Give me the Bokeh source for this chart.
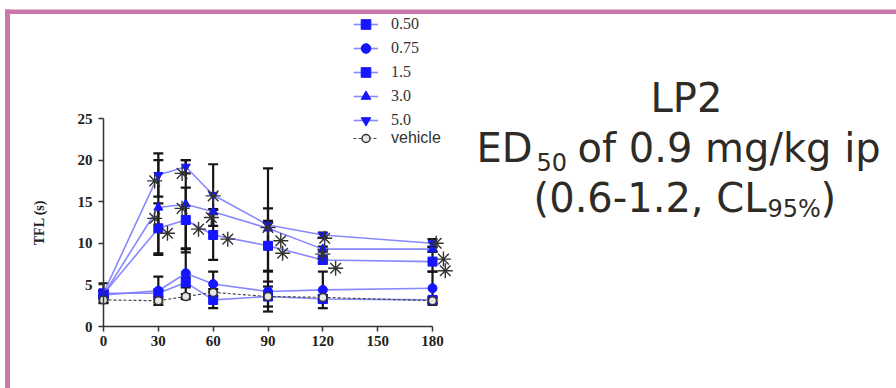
from bokeh.plotting import figure
from bokeh.models import (Range1d, LinearAxis, FixedTicker, Whisker, TeeHead,
                          ColumnDataSource, Legend, LegendItem, Label, BoxAnnotation)
from bokeh.embed import file_html
from bokeh.resources import INLINE

# ---------------- data ----------------
times = [0, 30, 45, 60, 90, 120, 180]
dose_050 = [4.0, 4.0, 5.3, 3.2, 3.6, 3.3, 3.2]
dose_075 = [3.8, 4.3, 6.4, 5.1, 4.2, 4.4, 4.6]
dose_15 = [3.9, 11.8, 12.8, 11.0, 9.7, 8.0, 7.8]
dose_30 = [3.8, 14.3, 14.7, 13.8, 11.8, 9.3, 9.3]
dose_50 = [4.0, 18.2, 19.2, 15.8, 12.2, 11.0, 10.0]
vehicle = [3.2, 3.1, 3.6, 4.1, 3.6, 3.5, 3.1]

sem_050 = [0.3, 0.4, 0.6, 1.0, 1.2, 0.3, 0.3]
sem_075 = [0.5, 1.7, 2.9, 1.5, 2.4, 2.2, 2.0]
sem_15 = [0.3, 3.0, 3.9, 3.0, 3.0, 0.4, 1.2]
sem_30 = [0.5, 5.7, 5.3, 0.3, 2.4, 0.3, 0.3]
sem_50 = [1.2, 2.6, 0.8, 3.7, 6.8, 0.3, 0.5]
sem_veh = [0.3, 0.2, 0.3, 0.4, 0.3, 0.3, 0.3]

labels = ["0.50", "0.75", "1.5", "3.0", "5.0"]
x_ticks = [0, 30, 60, 90, 120, 150, 180]
y_ticks = [0, 5, 10, 15, 20, 25]

# significance asterisks (time, value)
star_t = [28, 28, 35, 43, 43, 52, 60, 59, 68, 90, 97, 98, 121, 120, 127, 182, 186, 187]
star_v = [17.5, 13.0, 11.2, 18.4, 14.2, 11.7, 15.7, 13.1, 10.5, 11.9, 10.3, 8.8, 10.6, 8.7, 7.0, 10.0, 8.1, 6.7]

# ---------------- layout helpers (pixel -> data) ----------------
W, H = 896, 388
PX0, PY0 = 103.0, 326.0
SX = (432.0 - 103.0) / 180.0
SY = (326.0 - 118.0) / 25.0


def dx(px):
    return (px - PX0) / SX


def dy(py):
    return (PY0 - py) / SY


p = figure(width=W, height=H, output_backend="svg", toolbar_location=None,
           x_range=Range1d(dx(0), dx(W)), y_range=Range1d(dy(H), dy(0)),
           x_axis_location=None, y_axis_location=None,
           min_border=0, min_border_left=0, min_border_right=0,
           min_border_top=0, min_border_bottom=0)
p.outline_line_color = None
p.grid.visible = False
p.background_fill_color = "white"
p.border_fill_color = "white"

# slide frame
PINK = "#cc77aa"
p.add_layout(BoxAnnotation(left=dx(5), right=dx(W + 5), top=dy(9), bottom=dy(13.5),
                           fill_color=PINK, fill_alpha=1, line_color=None))
p.add_layout(BoxAnnotation(left=dx(4.5), right=dx(9.5), top=dy(9), bottom=dy(H + 5),
                           fill_color=PINK, fill_alpha=1, line_color=None))

# axes
AX = "#333333"
xaxis = LinearAxis(fixed_location=0, bounds=(0, 180), ticker=FixedTicker(ticks=x_ticks))
yaxis = LinearAxis(fixed_location=0, bounds=(0, 25), ticker=FixedTicker(ticks=y_ticks),
                   axis_label="TFL (s)")
for ax in (xaxis, yaxis):
    ax.axis_line_color = AX
    ax.axis_line_width = 1.5
    ax.major_tick_line_color = AX
    ax.major_tick_line_width = 1.5
    ax.major_tick_out = 5
    ax.major_tick_in = 0
    ax.minor_tick_line_color = None
    ax.major_label_text_font = "Liberation Serif"
    ax.major_label_text_font_style = "bold"
    ax.major_label_text_font_size = "15px"
    ax.major_label_text_color = "#222222"
    ax.major_label_standoff = 4
yaxis.major_label_standoff = 6
yaxis.axis_label_text_font = "Liberation Serif"
yaxis.axis_label_text_font_style = "bold"
yaxis.axis_label_text_font_size = "14px"
yaxis.axis_label_text_color = "#222222"
yaxis.axis_label_standoff = 28
p.add_layout(xaxis, "below")
p.add_layout(yaxis, "left")

# error bars
eb_t, eb_hi, eb_lo = [], [], []
for mean, sem in [(dose_050, sem_050), (dose_075, sem_075), (dose_15, sem_15),
                  (dose_30, sem_30), (dose_50, sem_50), (vehicle, sem_veh)]:
    for t, m, s in zip(times, mean, sem):
        eb_t.append(t)
        eb_hi.append(m + s)
        eb_lo.append(m - s)
eb_src = ColumnDataSource(data=dict(t=eb_t, hi=eb_hi, lo=eb_lo))
EB = "#151515"
wh = Whisker(source=eb_src, base="t", upper="hi", lower="lo", line_color=EB, line_width=2.2,
             upper_head=TeeHead(size=10, line_color=EB, line_width=2.2),
             lower_head=TeeHead(size=10, line_color=EB, line_width=2.2),
             level="underlay")
p.add_layout(wh)

# series
LINE = "#7b7bff"
MARK = "#1515ff"
series = [(dose_050, "square", 9), (dose_075, "circle", 9), (dose_15, "square", 9),
          (dose_30, "triangle", 9), (dose_50, "inverted_triangle", 9)]
items = []
for (vals, marker, size), lab in zip(series, labels):
    lr = p.line(times, vals, line_color=LINE, line_width=1.6, line_alpha=0.9)
    sr = p.scatter(times, vals, marker=marker, size=size, fill_color=MARK, line_color=MARK)
    items.append(LegendItem(label=lab, renderers=[lr, sr]))

vl = p.line(times, vehicle, line_color="#444444", line_width=1.2, line_dash="3 2")
vs = p.scatter(times, vehicle, marker="circle", size=8, fill_color="#e6e6e6",
               line_color="#333333", line_width=1.5)

# asterisks
p.scatter(star_t, star_v, marker="asterisk", size=15, line_color="#333333", line_width=1.4)

# legends
leg = Legend(items=items, location=(353, 388 - 132), padding=0, margin=0, spacing=0,
             glyph_width=25, glyph_height=24, label_height=24, label_standoff=13,
             label_text_font="Liberation Serif", label_text_font_size="16px",
             label_text_color="#333333", background_fill_alpha=0, border_line_alpha=0)
leg2 = Legend(items=[LegendItem(label="vehicle", renderers=[vl, vs])],
              location=(353, 388 - 148), padding=0, margin=0, spacing=0,
              glyph_width=25, glyph_height=20, label_height=20, label_standoff=13,
              label_text_font="Liberation Sans", label_text_font_size="16px",
              label_text_color="#333333", background_fill_alpha=0, border_line_alpha=0)
p.add_layout(leg)
p.add_layout(leg2)

# slide text
TXT = "#2e2b26"
FONT = "DejaVu Sans"


def lab(px, py, text, size, align="left"):
    # py is the intended baseline; shift for the renderer's baseline offset
    p.add_layout(Label(x=dx(px), y=dy(py - 0.37 * size), text=text, text_align=align,
                       text_baseline="alphabetic", text_font=FONT,
                       text_font_size=f"{size}px", text_color=TXT))


lab(686, 112, "LP2", 40, "center")
lab(532, 162, "ED", 40, "right")
lab(536, 170, "50", 24)
lab(577, 162, "of 0.9 mg/kg ip", 40)
lab(766, 212, "(0.6-1.2, CL", 40, "right")
lab(767, 217, "95%", 24)
lab(820, 212, ")", 40)

open("out.html", "w").write(file_html(p, INLINE))
